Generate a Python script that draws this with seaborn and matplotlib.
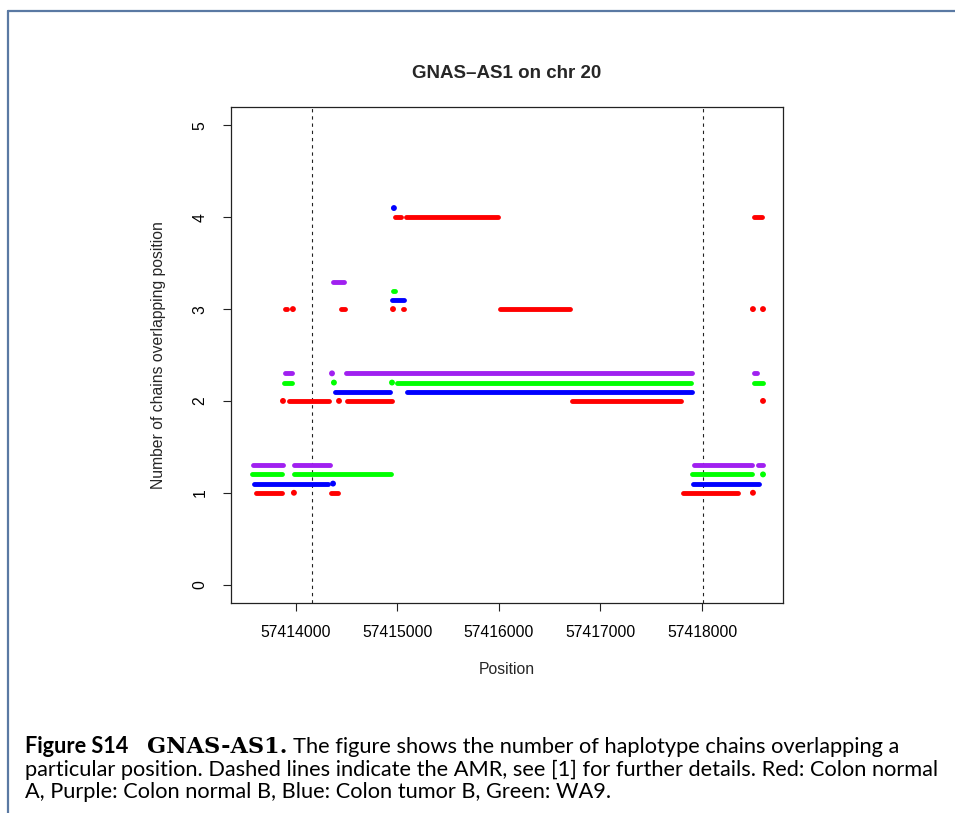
import matplotlib
matplotlib.use("Agg")
import numpy as np
import pandas as pd
import matplotlib.pyplot as plt
import seaborn as sns
from matplotlib.lines import Line2D

# Haplotype chain coverage per sample: segment start / end (bp) and number of
# chains overlapping it.  A segment whose start equals its end is a single position.
red_start = [57413606, 57413980, 57414345, 57417813, 57418502,
             57413872, 57413931, 57414424, 57414502, 57416719, 57418601,
             57413892, 57413970, 57414443, 57414956, 57415054, 57416010, 57418502, 57418601,
             57414975, 57415084, 57418512]
red_end = [57413862, 57413980, 57414414, 57418355, 57418502,
           57413872, 57414325, 57414424, 57414946, 57417793, 57418601,
           57413911, 57413970, 57414483, 57414956, 57415064, 57416699, 57418502, 57418601,
           57415034, 57415990, 57418591]
red_count = [1, 1, 1, 1, 1,
             2, 2, 2, 2, 2, 2,
             3, 3, 3, 3, 3, 3, 3, 3,
             4, 4, 4]

purple_start = [57413576, 57413980, 57417921, 57418552,
                57413892, 57414355, 57414493, 57418512,
                57414365]
purple_end = [57413872, 57414335, 57418493, 57418601,
              57413961, 57414355, 57417901, 57418542,
              57414473]
purple_count = [1, 1, 1, 1,
                2, 2, 2, 2,
                3]

blue_start = [57413586, 57414365, 57417911,
              57414384, 57415094,
              57414946,
              57414965]
blue_end = [57414315, 57414365, 57418561,
            57414926, 57417901,
            57415064,
            57414965]
blue_count = [1, 1, 1,
              2, 2,
              3,
              4]

green_start = [57413567, 57413980, 57417901, 57418601,
               57413882, 57414374, 57414946, 57414995, 57418512,
               57414956]
green_end = [57413862, 57414936, 57418493, 57418601,
             57413961, 57414374, 57414946, 57417892, 57418601,
             57414975]
green_count = [1, 1, 1, 1,
               2, 2, 2, 2, 2,
               3]

amr_bounds = [57414158, 57418007]
x_ticks = [57414000, 57415000, 57416000, 57417000, 57418000]
y_ticks = [0, 1, 2, 3, 4, 5]

# sample name -> (starts, ends, counts)
series = {
    "Colon normal A": (red_start, red_end, red_count),
    "Colon normal B": (purple_start, purple_end, purple_count),
    "Colon tumor B": (blue_start, blue_end, blue_count),
    "WA9": (green_start, green_end, green_count),
}
palette = {"Colon normal A": "#FF0000", "Colon normal B": "#A020F0",
           "Colon tumor B": "#0000FF", "WA9": "#00FF00"}
# small vertical shift so the samples do not sit on top of each other
shift = {"Colon normal A": 0.0, "Colon tumor B": 0.1, "WA9": 0.2, "Colon normal B": 0.3}

seg_rows, dot_rows = [], []
seg_id = 0
for name, (starts, ends, counts) in series.items():
    for s, e, c in zip(starts, ends, counts):
        lvl = c + shift[name]
        if s == e:
            dot_rows.append({"sample": name, "position": s, "level": lvl})
        else:
            seg_rows.append({"sample": name, "segment": seg_id, "position": s, "level": lvl})
            seg_rows.append({"sample": name, "segment": seg_id, "position": e, "level": lvl})
            seg_id += 1
seg_df = pd.DataFrame(seg_rows)
dot_df = pd.DataFrame(dot_rows)

sns.set_style("ticks")
plt.rcParams["font.family"] = ["Liberation Sans", "DejaVu Sans"]

W, H = 955, 813
fig = plt.figure(figsize=(W / 100, H / 100), dpi=100)
ax = fig.add_axes([231 / W, 1 - 603 / H, (783 - 231) / W, (603 - 107) / H])

sns.lineplot(data=seg_df, x="position", y="level", hue="sample", units="segment",
             estimator=None, sort=False, palette=palette, linewidth=3.5,
             solid_capstyle="round", legend=False, ax=ax)
sns.scatterplot(data=dot_df, x="position", y="level", hue="sample", palette=palette,
                s=18, linewidth=0, legend=False, ax=ax)

for b in amr_bounds:
    ax.axvline(b, color="#222222", lw=0.8, ls=(0, (3, 3.5)), zorder=0)

ax.set_xlim(57413360, 57418798)
ax.set_ylim(-0.2, 5.2)
ax.set_xticks(x_ticks)
ax.set_xticklabels([str(t) for t in x_ticks])
ax.set_yticks(y_ticks)
ax.set_yticklabels([str(t) for t in y_ticks], rotation=90, va="center")
ax.tick_params(axis="both", length=6, width=0.8, color="#222222", labelsize=11.3,
               labelcolor="black")
ax.tick_params(axis="x", pad=10)
ax.tick_params(axis="y", pad=11)
for sp in ax.spines.values():
    sp.set_visible(True)
    sp.set_linewidth(0.9)
    sp.set_color("#222222")

ax.set_title("GNAS\u2013AS1 on chr 20", fontsize=13.5, fontweight="bold", pad=21)
ax.set_xlabel("Position", fontsize=11.3)
ax.set_ylabel("Number of chains overlapping position", fontsize=11.3)
ax.xaxis.set_label_coords(0.5, -0.118)
ax.yaxis.set_label_coords(-0.117, 0.5)

# page frame
frame_col = "#5a79a3"
fig.add_artist(Line2D([7.5 / W, 7.5 / W], [0, 1 - 11.5 / H], transform=fig.transFigure,
                      color=frame_col, lw=1.6))
fig.add_artist(Line2D([7.5 / W, 1], [1 - 11.5 / H, 1 - 11.5 / H], transform=fig.transFigure,
                      color=frame_col, lw=1.6))

# caption
cap_family = ["Lato", "DejaVu Sans"]
line1_rest = "The figure shows the number of haplotype chains overlapping a"
line2 = "particular position. Dashed lines indicate the AMR, see [1] for further details. Red: Colon normal"
line3 = "A, Purple: Colon normal B, Blue: Colon tumor B, Green: WA9."
fig.canvas.draw()
renderer = fig.canvas.get_renderer()

def fit(text, target_px, **kw):
    t = fig.text(0, 0, text, fontsize=12, **kw)
    w = t.get_window_extent(renderer=renderer).width
    t.remove()
    return 12 * target_px / w

fs = fit(line2, 910, family=cap_family)
fs_serif = fit("GNAS-AS1.", 140, family=["DejaVu Serif"], fontweight="bold")
fs_bold = fit("Figure S14", 103, family=cap_family, fontweight="bold")

def fy(px):
    return 1 - px / H

fig.text(25 / W, fy(753), "Figure S14", family=cap_family, fontweight="bold",
         fontsize=fs_bold, va="baseline", color="black")
fig.text(147 / W, fy(753), "GNAS-AS1.", family=["DejaVu Serif"], fontweight="bold",
         fontsize=fs_serif, va="baseline", color="black")
fig.text(293 / W, fy(753), line1_rest, family=cap_family, fontsize=fs, va="baseline",
         color="black")
fig.text(25 / W, fy(775.5), line2, family=cap_family, fontsize=fs, va="baseline",
         color="black")
fig.text(25 / W, fy(798), line3, family=cap_family, fontsize=fs, va="baseline",
         color="black")

fig.savefig("out.png", dpi=100)
